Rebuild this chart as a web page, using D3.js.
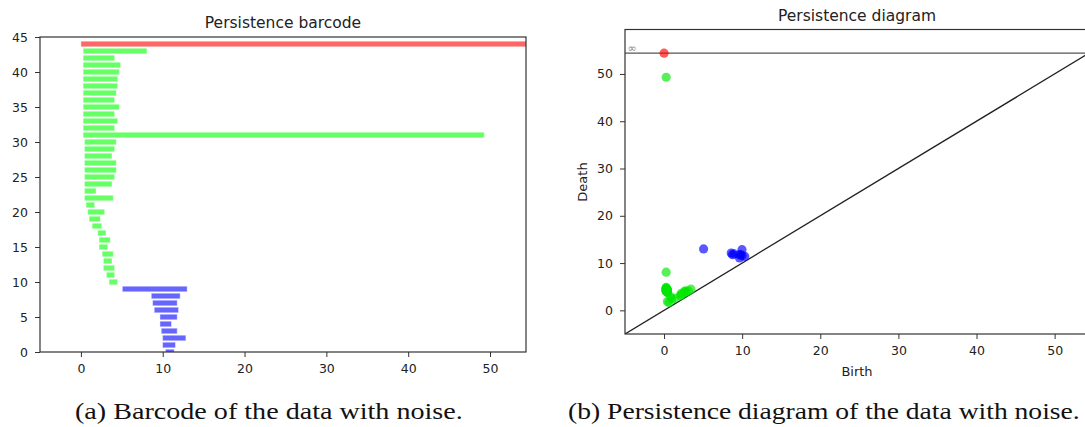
<!DOCTYPE html>
<html>
<head>
<meta charset="utf-8">
<script src="https://cdn.jsdelivr.net/npm/d3@7"></script>
<style>
  body { margin: 0; background: #fff; }
  .tick text { font-family: "DejaVu Sans", sans-serif; fill: #222; }
</style>
</head>
<body>
<div class="box"></div>
<script>
// intervals, bottom (index 0) to top
const births = [10.34, 9.98, 9.98, 9.82, 9.66, 9.66, 8.96, 8.76, 8.60, 5.06,
                3.44, 3.11, 2.74, 2.74, 2.59, 2.22, 2.22, 2.05, 1.37, 1.00,
                0.83, 0.63, 0.43, 0.43, 0.43, 0.43, 0.43, 0.43, 0.43, 0.43,
                0.43, 0.27, 0.27, 0.27, 0.27, 0.27, 0.27, 0.27, 0.27, 0.27,
                0.27, 0.27, 0.27, 0.27, 0.00];
const deaths = [11.40, 11.56, 12.83, 11.77, 11.07, 11.77, 11.93, 11.77, 12.13, 12.99,
                4.49, 4.12, 4.12, 3.80, 3.96, 3.27, 3.60, 3.07, 2.54, 2.38,
                2.90, 1.68, 3.96, 1.85, 3.80, 4.12, 4.33, 4.33, 3.80, 4.12,
                4.33, 49.3, 4.12, 4.50, 4.12, 4.70, 4.12, 4.33, 4.50, 4.50,
                4.70, 4.85, 4.12, 8.07, Infinity];
const dims = [1, 1, 1, 1, 1, 1, 1, 1, 1, 1,
              0, 0, 0, 0, 0, 0, 0, 0, 0, 0,
              0, 0, 0, 0, 0, 0, 0, 0, 0, 0,
              0, 0, 0, 0, 0, 0, 0, 0, 0, 0,
              0, 0, 0, 0, 0];
const xTicks = [0, 10, 20, 30, 40, 50];
const barYTicks = [0, 5, 10, 15, 20, 25, 30, 35, 40, 45];
const diagYTicks = [0, 10, 20, 30, 40, 50];
const infValue = 54.4;

const data = births.map((b, i) => ({i: i, birth: b, death: deaths[i], dim: dims[i]}));
const colorOf = d => d.death === Infinity ? 'red' : (d.dim === 1 ? 'blue' : 'lime');
const barFill = {red: '#ff6666', lime: '#66ff66', blue: '#6666ff'};
const dotFill = {red: '#ff0000', lime: '#00e600', blue: '#0000ff'};

const svg = d3.select('.box')
              .append('svg')
              .attr('width', 1085)
              .attr('height', 427)
              .style('background', '#fff')
              .style('display', 'block');

function styleAxis(g) {
  g.select('.domain').remove();
  g.selectAll('.tick line').attr('stroke', '#333').attr('stroke-width', 1);
  g.selectAll('.tick text').style('font-size', '12.5px');
}

// ---------- barcode ----------
const bx = d3.scaleLinear().domain([-5, infValue]).range([40, 526]);
const by = d3.scaleLinear().domain([0, 45]).range([352, 37]);

svg.append('clipPath').attr('id', 'clipA')
   .append('rect').attr('x', 40).attr('y', 37).attr('width', 486).attr('height', 315);

svg.append('g').attr('clip-path', 'url(#clipA)')
   .selectAll('rect')
   .data(data)
   .enter()
   .append('rect')
   .attr('x', d => bx(d.birth))
   .attr('width', d => bx(Math.min(d.death, infValue + 1)) - bx(d.birth))
   .attr('y', d => by(d.i + 0.4))
   .attr('height', d => by(d.i - 0.4) - by(d.i + 0.4))
   .attr('fill', d => barFill[colorOf(d)])
   .attr('stroke', 'rgba(255,255,255,0.45)')
   .attr('stroke-width', 1);

svg.append('g').attr('transform', 'translate(0,352)')
   .call(d3.axisBottom(bx).tickValues(xTicks).tickSize(5).tickPadding(7))
   .call(styleAxis);
svg.append('g').attr('transform', 'translate(40,0)')
   .call(d3.axisLeft(by).tickValues(barYTicks).tickSize(5).tickPadding(7))
   .call(styleAxis);

svg.append('rect').attr('x', 40).attr('y', 37).attr('width', 486).attr('height', 315)
   .attr('fill', 'none').attr('stroke', '#333').attr('stroke-width', 1.2);

svg.append('text').attr('x', 283).attr('y', 28)
   .attr('text-anchor', 'middle')
   .style('font-family', '"DejaVu Sans", sans-serif').style('font-size', '15.5px').attr('fill', '#222')
   .text('Persistence barcode');

// ---------- diagram ----------
const dx = d3.scaleLinear().domain([-5, infValue]).range([625, 1089]);
const dy = d3.scaleLinear().domain([-5, 59.4]).range([334, 29.5]);

svg.append('clipPath').attr('id', 'clipB')
   .append('rect').attr('x', 625).attr('y', 29.5).attr('width', 464).attr('height', 304.5);

const plotB = svg.append('g').attr('clip-path', 'url(#clipB)');

plotB.append('line')
     .attr('x1', dx(-5)).attr('y1', dy(-5))
     .attr('x2', dx(infValue)).attr('y2', dy(infValue))
     .attr('stroke', '#222').attr('stroke-width', 1.3);
plotB.append('line')
     .attr('x1', dx(-5)).attr('y1', dy(infValue))
     .attr('x2', dx(infValue)).attr('y2', dy(infValue))
     .attr('stroke', '#555').attr('stroke-width', 1.1);

plotB.selectAll('circle')
     .data(data)
     .enter()
     .append('circle')
     .attr('cx', d => dx(d.birth))
     .attr('cy', d => dy(Math.min(d.death, infValue)))
     .attr('r', 4.6)
     .attr('fill', d => dotFill[colorOf(d)])
     .attr('fill-opacity', 0.65);

svg.append('text').attr('x', 627.5).attr('y', dy(infValue) - 1.5)
   .style('font-family', '"DejaVu Sans", sans-serif').style('font-size', '11px').attr('fill', '#888')
   .text('∞');

svg.append('g').attr('transform', 'translate(0,334)')
   .call(d3.axisBottom(dx).tickValues(xTicks).tickSize(5).tickPadding(7))
   .call(styleAxis);
svg.append('g').attr('transform', 'translate(625,0)')
   .call(d3.axisLeft(dy).tickValues(diagYTicks).tickSize(5).tickPadding(7))
   .call(styleAxis);

svg.append('rect').attr('x', 625).attr('y', 29.5).attr('width', 464).attr('height', 304.5)
   .attr('fill', 'none').attr('stroke', '#333').attr('stroke-width', 1.2);

svg.append('text').attr('x', 857).attr('y', 21)
   .attr('text-anchor', 'middle')
   .style('font-family', '"DejaVu Sans", sans-serif').style('font-size', '15.5px').attr('fill', '#222')
   .text('Persistence diagram');

svg.append('text').attr('x', 857).attr('y', 376)
   .attr('text-anchor', 'middle')
   .style('font-family', '"DejaVu Sans", sans-serif').style('font-size', '13px').attr('fill', '#222')
   .text('Birth');
svg.append('text')
   .attr('transform', 'translate(587,182) rotate(-90)')
   .attr('text-anchor', 'middle')
   .style('font-family', '"DejaVu Sans", sans-serif').style('font-size', '13px').attr('fill', '#222')
   .text('Death');

// ---------- captions ----------
const capA = svg.append('text').attr('y', 419)
   .style('font-family', '"Liberation Serif", serif').style('font-size', '23px').attr('fill', '#111')
   .text('(a) Barcode of the data with noise.');
const sx = 388 / capA.node().getComputedTextLength();
capA.attr('transform', `translate(75,0) scale(${sx},1)`);

const capB = svg.append('text').attr('y', 419)
   .style('font-family', '"Liberation Serif", serif').style('font-size', '23px').attr('fill', '#111')
   .text('(b) Persistence diagram of the data with noise.');
const sxB = Math.min(sx, 512 / capB.node().getComputedTextLength());
capB.attr('transform', `translate(568,0) scale(${sxB},1)`);
</script>
</body>
</html>
